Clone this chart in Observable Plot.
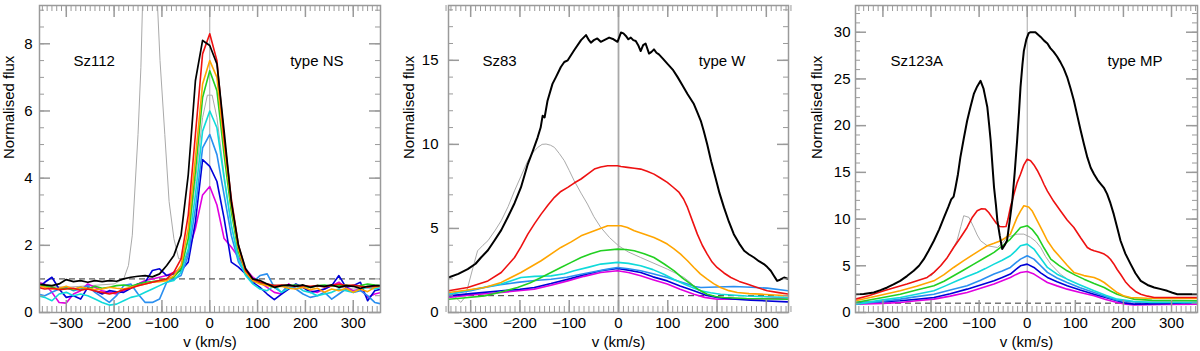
<!DOCTYPE html>
<html><head><meta charset="utf-8">
<script src="https://cdn.jsdelivr.net/npm/d3@7"></script>
<script src="https://cdn.jsdelivr.net/npm/@observablehq/plot@0.6"></script>
<style>
html,body{margin:0;padding:0;background:#fff;}
#row{display:flex;width:1200px;height:351px;overflow:hidden;}
#row svg{display:block;flex:none;}
</style></head><body><div id="row"></div>
<script>
// ---------- tick labels ----------
const xMajor = [-300, -200, -100, 0, 100, 200, 300];
const y1Major = [0, 2, 4, 6, 8];
const y2Major = [0, 5, 10, 15];
const y3Major = [0, 5, 10, 15, 20, 25, 30];
const seriesNames = ["ghost", "magenta", "blue", "lightblue", "cyan", "green", "orange", "red", "black"];
const colors = {ghost: "#aaaaaa", magenta: "#e000e0", blue: "#0000d8", lightblue: "#2a8ff0", cyan: "#10dada", green: "#22d022", orange: "#ffa500", red: "#ee1111", black: "#000000"};

// ---------- Panel 1 : Sz112 (shared velocity grid) ----------
const v1 = [-360,-345,-330,-315,-300,-285,-270,-255,-240,-225,-210,-195,-180,-165,-150,-135,-120,-105,-90,-75,-60,-45,-30,-15,0,15,30,45,60,75,90,105,120,135,150,165,180,195,210,225,240,255,270,285,300,315,330,345,360];
const sz112_black = [0.85,0.82,0.8,0.85,0.98,0.92,0.95,0.9,0.95,0.92,0.95,0.93,1.0,1.05,1.08,1.1,1.06,1.15,1.4,1.7,2.3,4.1,6.9,8.1,7.95,7.4,5.4,3.3,2.0,1.3,1.0,0.95,0.85,0.75,0.8,0.82,0.78,0.82,0.75,0.8,0.78,0.82,0.75,0.8,0.78,0.72,0.78,0.8,0.8];
const sz112_red = [0.75,0.7,0.72,0.68,0.7,0.72,0.66,0.7,0.64,0.6,0.55,0.6,0.68,0.72,0.8,0.85,0.9,0.95,1.0,1.2,1.6,2.9,5.3,7.7,8.3,7.5,5.2,3.4,2.0,1.25,1.0,0.9,0.85,0.8,0.82,0.8,0.78,0.8,0.78,0.8,0.76,0.8,0.85,0.8,0.82,0.78,0.75,0.78,0.8];
const sz112_orange = [0.8,0.75,0.7,0.72,0.78,0.7,0.75,0.72,0.68,0.7,0.75,0.72,0.7,0.75,0.8,0.85,0.9,0.92,0.95,1.1,1.4,2.5,4.6,6.8,7.5,7.0,5.0,3.2,1.9,1.2,0.95,0.85,0.8,0.75,0.78,0.72,0.7,0.75,0.68,0.72,0.6,0.7,0.65,0.72,0.6,0.7,0.62,0.75,0.8];
const sz112_green = [0.78,0.8,0.75,0.7,0.72,0.68,0.75,0.7,0.78,0.72,0.75,0.8,0.82,0.78,0.85,0.9,0.92,0.95,1.0,1.05,1.3,2.2,4.2,6.4,7.2,6.6,4.7,3.0,1.8,1.2,0.95,0.88,0.82,0.8,0.78,0.8,0.82,0.78,0.75,0.8,0.82,0.78,0.8,0.82,0.78,0.8,0.85,0.82,0.8];
const sz112_cyan = [0.5,0.45,0.35,0.55,0.6,0.5,0.55,0.5,0.4,0.3,0.22,0.25,0.35,0.45,0.5,0.6,0.7,0.8,0.9,0.95,1.2,1.9,3.5,5.4,6.0,5.5,4.0,2.6,1.6,1.1,0.85,0.7,0.65,0.8,0.6,0.72,0.8,0.65,0.6,0.5,0.55,0.6,0.7,0.65,0.6,0.7,0.75,0.7,0.75];
const sz112_lightblue = [0.55,0.5,0.6,0.7,0.75,0.65,0.7,0.8,0.6,0.45,0.3,0.5,0.8,0.85,0.55,0.3,0.3,0.4,0.9,1.0,1.1,1.7,3.1,4.9,5.3,4.7,3.5,2.3,1.5,1.15,0.9,1.1,1.15,0.75,0.6,0.8,0.7,0.55,0.45,0.5,0.6,0.4,0.55,0.7,0.6,0.65,0.5,0.3,0.25];
const sz112_blue = [0.7,0.9,1.05,0.7,0.45,0.5,0.4,0.75,0.65,0.55,0.65,0.62,0.6,0.72,0.85,0.9,1.25,1.3,1.1,1.15,1.25,1.5,2.7,4.55,4.35,3.9,2.8,1.5,1.35,1.15,0.9,0.75,0.55,0.38,0.55,0.7,0.85,0.75,0.6,0.65,0.7,0.8,1.1,0.75,0.8,0.9,0.35,0.65,0.7];
const sz112_magenta = [0.9,0.85,0.6,0.3,0.28,0.55,0.65,0.85,0.75,0.65,0.6,0.55,0.65,0.75,0.85,0.95,1.0,1.05,1.1,1.2,1.3,1.8,2.5,3.5,3.75,3.2,2.2,1.95,1.65,1.3,1.05,0.9,0.75,0.6,0.55,0.85,0.7,0.75,0.65,0.6,0.7,0.8,0.9,0.75,0.65,0.7,0.45,0.55,0.6];
const sz112_ghost = [[-360,0.8],[-300,0.75],[-250,0.8],[-200,0.85],[-180,1.0],[-170,1.4],[-162,2.3],[-150,5.3],[-144,7.3],[-140,9.5],[-132,14],[-122,14],[-112,10],[-104,7.5],[-94,5.3],[-85,3.3],[-75,2.2],[-65,1.6],[-55,1.6],[-45,2.2],[-30,3.9],[-15,5.8],[-5,6.47],[5,6.47],[15,5.8],[30,4.1],[45,2.6],[60,1.6],[75,1.1],[90,0.9],[120,0.85],[150,0.8],[200,0.75],[250,0.8],[300,0.7],[360,0.75]];

// ---------- Panel 2 : Sz83 ([v, flux] pairs) ----------
const sz83_black = [[-345,2.08],[-325,2.3],[-306,2.58],[-290,2.9],[-279,3.27],[-265,3.7],[-252,4.27],[-238,4.9],[-225,5.65],[-211,6.5],[-198,7.44],[-184,8.83],[-174,9.6],[-164,10.42],[-158,11.0],[-154,11.7],[-150,11.6],[-144,12.6],[-134,13.6],[-127,14.0],[-117,14.6],[-110,14.9],[-103,15.0],[-90,15.6],[-76,16.2],[-66,16.5],[-60,16.2],[-56,16.05],[-50,16.2],[-43,16.3],[-36,16.1],[-29,16.2],[-19,16.35],[-10,16.25],[-2,16.1],[5,16.65],[10,16.6],[15,16.45],[20,16.25],[25,16.35],[30,16.2],[35,16.15],[40,15.9],[45,15.55],[50,15.9],[55,16.0],[62,15.4],[67,15.5],[72,15.65],[77,15.45],[82,15.35],[90,15.1],[99,14.8],[110,14.45],[120,14.0],[130,13.5],[140,13.0],[153,12.4],[160,11.9],[167,11.4],[173,10.8],[180,10.0],[188,9.0],[197,8.0],[205,7.1],[214,6.25],[224,5.4],[234,4.66],[245,4.1],[255,3.67],[265,3.45],[275,3.27],[285,3.05],[295,2.88],[302,2.7],[309,2.48],[315,2.2],[322,1.88],[328,1.95],[336,2.08],[346,1.98]];
const sz83_red = [[-345,1.29],[-306,1.49],[-265,1.88],[-238,2.38],[-211,3.27],[-198,3.9],[-184,4.66],[-170,5.3],[-157,5.85],[-143,6.4],[-130,6.85],[-117,7.2],[-103,7.44],[-90,7.7],[-76,7.94],[-62,8.25],[-49,8.53],[-36,8.65],[-22,8.73],[-2,8.73],[5,8.68],[18,8.63],[32,8.58],[45,8.53],[58,8.4],[72,8.23],[85,8.0],[99,7.74],[111,7.45],[123,7.14],[132,6.75],[140,6.25],[150,5.45],[160,4.66],[170,4.0],[180,3.47],[190,3.0],[200,2.68],[214,2.35],[228,2.08],[245,1.85],[261,1.69],[280,1.5],[302,1.29],[325,1.18],[346,1.09]];
const sz83_orange = [[-345,1.19],[-310,1.32],[-272,1.49],[-238,1.79],[-198,2.38],[-157,3.08],[-117,3.87],[-96,4.2],[-76,4.56],[-49,4.86],[-22,5.16],[5,5.16],[18,5.05],[32,4.86],[50,4.68],[72,4.46],[85,4.28],[99,4.07],[112,3.8],[126,3.47],[140,3.08],[153,2.68],[166,2.3],[180,1.98],[193,1.72],[207,1.49],[224,1.3],[241,1.19],[265,1.12],[288,1.09],[346,0.99]];
const sz83_green = [[-345,0.79],[-310,0.88],[-272,0.99],[-240,1.2],[-205,1.49],[-180,1.75],[-157,2.08],[-137,2.38],[-117,2.68],[-96,2.98],[-76,3.27],[-56,3.5],[-36,3.67],[-2,3.77],[15,3.75],[32,3.67],[52,3.5],[72,3.27],[92,2.9],[113,2.48],[130,2.05],[147,1.69],[163,1.35],[180,1.09],[197,0.95],[214,0.89],[260,0.83],[346,0.79]];
const sz83_cyan = [[-345,1.09],[-290,1.4],[-238,1.69],[-198,2.08],[-170,2.15],[-137,2.18],[-110,2.3],[-90,2.48],[-60,2.7],[-36,2.88],[-2,2.98],[20,2.92],[45,2.78],[70,2.55],[92,2.28],[112,1.98],[133,1.69],[150,1.48],[167,1.29],[187,1.17],[207,1.09],[260,0.98],[346,0.89]];
const sz83_lightblue = [[-345,1.09],[-300,1.3],[-272,1.49],[-240,1.65],[-205,1.79],[-170,1.9],[-137,1.98],[-105,2.1],[-76,2.28],[-50,2.42],[-22,2.58],[-2,2.68],[20,2.6],[45,2.48],[70,2.3],[99,2.08],[120,1.88],[140,1.69],[155,1.55],[167,1.49],[200,1.52],[234,1.55],[270,1.5],[302,1.45],[346,1.29]];
const sz83_blue = [[-345,0.99],[-300,1.12],[-238,1.29],[-200,1.38],[-171,1.49],[-137,1.72],[-103,1.98],[-70,2.25],[-36,2.48],[-2,2.62],[20,2.52],[45,2.38],[70,2.12],[99,1.88],[125,1.58],[153,1.29],[175,1.05],[200,0.89],[230,0.8],[268,0.73],[346,0.63]];
const sz83_magenta = [[-345,0.89],[-300,1.05],[-238,1.19],[-171,1.39],[-137,1.62],[-103,1.88],[-70,2.15],[-36,2.38],[-2,2.48],[20,2.38],[45,2.18],[70,1.95],[99,1.69],[125,1.38],[153,1.09],[175,0.9],[200,0.79],[268,0.79],[346,0.89]];
const sz83_ghost = [[-345,1.25],[-332,0.95],[-320,0.6],[-312,0.9],[-306,1.49],[-296,2.6],[-286,3.67],[-275,4.0],[-265,4.27],[-250,4.9],[-238,5.46],[-224,6.3],[-211,7.24],[-198,8.1],[-184,9.03],[-174,9.5],[-164,9.82],[-155,10.0],[-147,10.02],[-138,9.95],[-130,9.82],[-120,9.45],[-110,9.03],[-100,8.45],[-90,7.84],[-76,7.1],[-63,6.45],[-50,5.7],[-36,5.06],[-18,4.45],[0,3.97],[20,3.6],[45,3.27],[70,2.95],[99,2.58],[115,2.35],[133,2.08],[145,1.8],[153,1.59],[170,1.2],[190,0.95],[220,0.85],[270,0.8],[346,0.8]];

// ---------- Panel 3 : Sz123A ([v, flux] pairs) ----------
const sz123a_black = [[-357,1.96],[-340,1.98],[-319,2.14],[-305,2.4],[-291,2.68],[-278,3.0],[-264,3.39],[-250,3.9],[-236,4.46],[-225,5.0],[-215,5.71],[-205,6.6],[-194,7.68],[-183,8.9],[-173,10.18],[-164,11.3],[-158,12.1],[-153,12.4],[-149,13.4],[-144,14.8],[-139,16.6],[-132,18.6],[-125,20.5],[-118,22.0],[-111,23.4],[-104,24.2],[-97,24.8],[-91,24.0],[-87,23.0],[-83,22.0],[-79,20.0],[-76,18.4],[-72,15.5],[-69,13.4],[-65,11.5],[-62,9.8],[-57,8.2],[-52,6.8],[-47,7.2],[-42,7.7],[-36,10.0],[-31,12.0],[-26,15.0],[-21,18.4],[-17,21.5],[-14,24.1],[-10,26.5],[-7,28.0],[-2,29.2],[3,29.9],[7,30.0],[17,30.0],[28,29.5],[35,29.1],[42,28.8],[48,28.3],[55,27.9],[62,27.4],[69,26.8],[76,26.1],[83,25.2],[90,24.0],[97,22.7],[104,21.1],[111,19.5],[118,18.0],[125,16.6],[132,15.5],[139,14.8],[146,14.2],[153,13.75],[160,13.3],[166,12.7],[173,11.7],[180,10.5],[187,9.1],[194,7.68],[204,6.3],[215,5.18],[225,4.2],[236,3.39],[250,2.95],[264,2.68],[278,2.5],[291,2.32],[302,2.12],[312,1.96],[333,1.96],[354,1.96]];
const sz123a_red = [[-357,1.43],[-330,1.8],[-298,2.32],[-275,2.68],[-250,3.04],[-229,3.4],[-208,3.75],[-194,4.3],[-180,5.0],[-166,5.9],[-153,6.96],[-139,8.0],[-125,9.1],[-114,10.2],[-104,10.9],[-95,11.1],[-87,11.07],[-80,10.7],[-73,10.18],[-65,9.6],[-57,9.2],[-50,9.18],[-44,9.2],[-40,10.0],[-35,11.25],[-28,12.6],[-21,13.9],[-14,14.8],[-7,15.8],[0,16.4],[7,16.25],[14,15.8],[21,15.2],[28,14.5],[35,13.7],[42,13.0],[55,11.9],[69,10.9],[83,9.9],[97,9.1],[111,8.0],[125,6.96],[132,6.75],[139,6.6],[150,6.45],[160,6.25],[167,6.0],[173,5.7],[180,5.2],[187,4.6],[194,4.1],[204,3.3],[215,2.68],[225,2.25],[236,1.96],[250,1.75],[264,1.6],[300,1.6],[354,1.6]];
const sz123a_orange = [[-357,1.25],[-310,1.8],[-264,2.32],[-230,2.8],[-194,3.39],[-173,4.05],[-153,4.82],[-132,5.55],[-111,6.25],[-97,6.7],[-83,7.14],[-69,7.4],[-55,7.68],[-45,8.0],[-35,8.39],[-28,9.3],[-21,10.18],[-14,10.85],[-7,11.43],[3,11.3],[10,10.9],[21,9.82],[32,8.7],[42,7.68],[55,6.7],[69,5.89],[83,5.05],[97,4.29],[118,3.95],[139,3.75],[150,3.5],[160,3.21],[173,2.7],[187,2.14],[200,1.8],[215,1.6],[250,1.52],[354,1.5]];
const sz123a_green = [[-357,1.07],[-300,1.6],[-264,1.96],[-230,2.4],[-194,2.86],[-173,3.35],[-153,3.93],[-132,4.55],[-111,5.18],[-90,5.8],[-69,6.43],[-52,7.1],[-35,7.86],[-24,8.5],[-14,9.1],[0,9.29],[10,8.9],[21,8.2],[35,6.9],[49,5.71],[66,5.05],[83,4.46],[100,4.0],[118,3.57],[139,3.1],[160,2.68],[173,2.3],[187,1.96],[205,1.65],[222,1.43],[260,1.3],[354,1.25]];
const sz123a_cyan = [[-357,0.9],[-300,1.35],[-264,1.6],[-230,1.95],[-194,2.32],[-170,2.85],[-146,3.39],[-125,3.85],[-104,4.29],[-87,4.7],[-69,5.18],[-52,5.6],[-35,6.07],[-24,6.6],[-14,7.14],[0,7.32],[14,6.79],[28,5.8],[42,4.82],[62,4.1],[83,3.57],[110,2.95],[139,2.32],[163,1.85],[187,1.43],[220,1.2],[257,1.07],[354,1.07]];
const sz123a_lightblue = [[-357,0.9],[-300,1.2],[-264,1.43],[-230,1.7],[-194,1.96],[-160,2.4],[-125,2.86],[-97,3.45],[-69,4.11],[-52,4.45],[-35,4.82],[-24,5.3],[-14,5.71],[0,6.07],[14,5.71],[28,5.0],[42,4.29],[62,3.7],[83,3.21],[110,2.65],[139,2.14],[163,1.7],[187,1.32],[220,1.12],[354,1.07]];
const sz123a_blue = [[-357,1.07],[-300,1.15],[-264,1.25],[-230,1.42],[-194,1.6],[-160,2.0],[-125,2.5],[-97,2.95],[-69,3.39],[-52,3.75],[-35,4.11],[-24,4.6],[-14,5.0],[0,5.18],[14,4.82],[28,4.25],[42,3.75],[62,3.3],[83,2.86],[110,2.4],[139,1.96],[163,1.6],[187,1.25],[205,1.0],[222,0.9],[280,0.95],[354,1.07]];
const sz123a_magenta = [[-357,0.9],[-300,0.98],[-264,1.07],[-230,1.25],[-194,1.43],[-160,1.75],[-125,2.14],[-97,2.6],[-69,3.04],[-52,3.4],[-35,3.75],[-24,4.05],[-14,4.29],[0,4.39],[14,4.11],[28,3.65],[42,3.21],[62,2.85],[83,2.5],[110,2.15],[139,1.79],[163,1.4],[187,1.07],[205,0.88],[222,0.82],[280,0.85],[354,0.9]];
const sz123a_ghost = [[-200,3.9],[-180,5.0],[-166,5.9],[-156,6.7],[-146,7.68],[-138,9.2],[-132,10.36],[-121,10.18],[-111,9.1],[-104,8.3],[-97,7.68],[-83,7.14],[-62,6.96],[-52,7.4],[-42,8.04],[-21,8.39],[-7,8.39],[7,8.04],[18,7.6],[28,6.96],[38,6.0],[49,5.18],[69,4.1],[83,3.6]];

// ---------- assemble ----------
const toPairs = arr => v1.map((v, i) => [v, arr[i]]);
const panel1Series = {
  ghost: sz112_ghost, magenta: toPairs(sz112_magenta), blue: toPairs(sz112_blue),
  lightblue: toPairs(sz112_lightblue), cyan: toPairs(sz112_cyan), green: toPairs(sz112_green),
  orange: toPairs(sz112_orange), red: toPairs(sz112_red), black: toPairs(sz112_black)
};
const panel2Series = {ghost: sz83_ghost, magenta: sz83_magenta, blue: sz83_blue, lightblue: sz83_lightblue, cyan: sz83_cyan, green: sz83_green, orange: sz83_orange, red: sz83_red, black: sz83_black};
const panel3Series = {ghost: sz123a_ghost, magenta: sz123a_magenta, blue: sz123a_blue, lightblue: sz123a_lightblue, cyan: sz123a_cyan, green: sz123a_green, orange: sz123a_orange, red: sz123a_red, black: sz123a_black};

const FONT = "'Liberation Sans', Arial, Helvetica, sans-serif";
const TICK = "#9a9a9a";

function panel(cfg) {
  const W = 400, H = 351, mt = 5, mb = 39;
  const iw = W - cfg.ml - cfg.mr, ih = H - mt - mb;
  const xMinor = d3.range(-350, 351, 10);
  const yMinor = d3.range(0, cfg.yDomain[1], cfg.yMinorStep);
  const marks = [
    Plot.ruleX([0], {stroke: "#a8a8a8", strokeWidth: cfg.zeroWidth}),
    Plot.ruleY([1], {stroke: "#333", strokeWidth: 1, strokeDasharray: "6,4"})
  ];
  for (const name of seriesNames) {
    const data = cfg.series[name];
    marks.push(Plot.line(data, {
      x: d => d[0], y: d => d[1], stroke: colors[name],
      strokeWidth: name === "ghost" ? 1 : name === "black" ? cfg.blackWidth : 1.6,
      clip: true
    }));
  }
  // inward ticks on all four sides
  marks.push(
    Plot.ruleX(xMinor, {stroke: TICK, strokeWidth: 1, insetTop: ih - 6}),
    Plot.ruleX(xMinor, {stroke: TICK, strokeWidth: 1, insetBottom: ih - 6}),
    Plot.ruleX(xMajor, {stroke: TICK, strokeWidth: 1.5, insetTop: ih - 12}),
    Plot.ruleX(xMajor, {stroke: TICK, strokeWidth: 1.5, insetBottom: ih - 12}),
    Plot.ruleY(yMinor, {stroke: TICK, strokeWidth: 1, insetRight: iw - 5}),
    Plot.ruleY(yMinor, {stroke: TICK, strokeWidth: 1, insetLeft: iw - 5}),
    Plot.ruleY(cfg.yMajor, {stroke: TICK, strokeWidth: 1.5, insetRight: iw - 11}),
    Plot.ruleY(cfg.yMajor, {stroke: TICK, strokeWidth: 1.5, insetLeft: iw - 11}),
    Plot.frame({stroke: TICK, strokeWidth: 1.5}),
    Plot.axisX({ticks: xMajor, tickSize: 0, tickPadding: 5, label: null, fontSize: 15}),
    Plot.axisY({ticks: cfg.yMajor, tickSize: 0, tickPadding: cfg.yPad, label: null, fontSize: 15}),
    Plot.text(["v (km/s)"], {frameAnchor: "bottom", dy: 30, lineAnchor: "middle", fontSize: 15, fill: "#000"}),
    Plot.text(["Normalised flux"], {frameAnchor: "left", dx: cfg.ylabDx, rotate: -90, lineAnchor: "middle", fontSize: 15, fill: "#000"}),
    Plot.text([cfg.name], {frameAnchor: "top-left", dx: cfg.nameDx, dy: 56, textAnchor: "start", lineAnchor: "middle", fontSize: 15, fill: "#000"}),
    Plot.text([cfg.type], {frameAnchor: "top-right", dx: cfg.typeDx, dy: 56, textAnchor: "end", lineAnchor: "middle", fontSize: 15, fill: "#000"})
  );
  return Plot.plot({
    width: W, height: H,
    marginLeft: cfg.ml, marginRight: cfg.mr, marginTop: mt, marginBottom: mb,
    x: {domain: cfg.xDomain},
    y: {domain: cfg.yDomain},
    style: {fontFamily: FONT, fontSize: "15px", color: "#000", background: "#fff"},
    marks
  });
}

const row = document.getElementById("row");
row.appendChild(panel({series: panel1Series, xDomain: [-356, 357], yDomain: [0, 9.14], ml: 39, mr: 20, blackWidth: 1.7,
  yMajor: y1Major, yMinorStep: 0.5, yPad: 7, name: "Sz112", type: "type NS", nameDx: 34, typeDx: -37, ylabDx: -30, zeroWidth: 1}));
row.appendChild(panel({series: panel2Series, xDomain: [-345, 345], yDomain: [0, 18.26], ml: 48, mr: 12, blackWidth: 2,
  yMajor: y2Major, yMinorStep: 1, yPad: 10, name: "Sz83", type: "type W", nameDx: 34, typeDx: -43, ylabDx: -39, zeroWidth: 1.8}));
row.appendChild(panel({series: panel3Series, xDomain: [-357, 354], yDomain: [0, 32.86], ml: 55, mr: 3, blackWidth: 2,
  yMajor: y3Major, yMinorStep: 1, yPad: 5, name: "Sz123A", type: "type MP", nameDx: 35, typeDx: -35, ylabDx: -38, zeroWidth: 1}));
</script>
</body></html>
